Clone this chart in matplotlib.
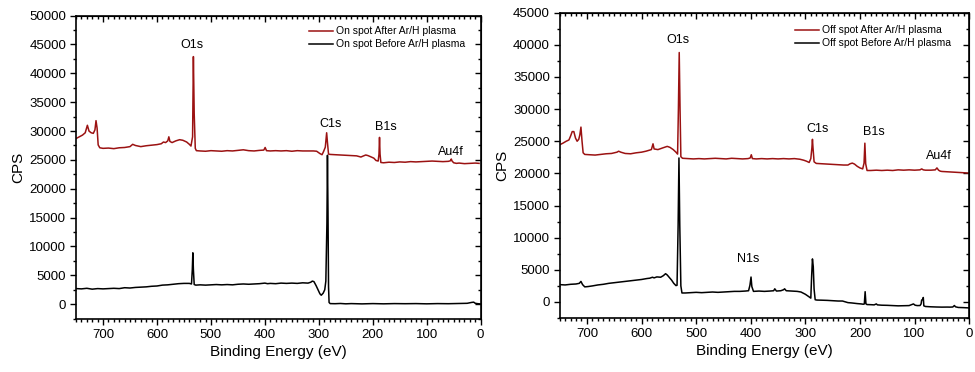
import matplotlib
matplotlib.use("Agg")
import matplotlib.pyplot as plt
from matplotlib.ticker import MultipleLocator

plt.rcParams["font.family"] = ["Liberation Sans", "DejaVu Sans"]

RED = "#9b1212"

# --- survey spectra: binding energy (eV) and counts per second -------------
on_after_be = [750, 744, 738, 733, 729, 726, 722, 718, 715, 713, 711, 709, 706, 700, 690,
               680, 670, 660, 650, 645, 640, 630, 620, 610, 600, 592, 588, 584, 580, 578,
               576, 572, 565, 558, 552, 545, 540, 537, 534, 532.5, 531, 529, 527, 520, 510,
               500, 490, 480, 470, 460, 450, 440, 430, 420, 410, 402, 399.5, 397, 390, 380,
               370, 360, 350, 340, 330, 320, 310, 304, 298, 294, 291, 288, 285.5, 284, 282,
               279, 270, 260, 250, 240, 230, 222, 217, 213, 209, 204, 198, 194, 190, 188.5,
               187.5, 186.5, 185, 180, 170, 160, 150, 140, 130, 120, 110, 100, 90, 80, 70,
               60, 56, 54.5, 53, 50, 45, 40, 30, 20, 10, 3]
on_after_cps = [28700, 29000, 29300, 29700, 31000, 30000, 29700, 29600, 30200, 31800, 30500,
                27600, 27100, 27000, 27050, 26950, 27100, 27150, 27300, 27700, 27500, 27300,
                27450, 27550, 27650, 27800, 28100, 28000, 28300, 29000, 28200, 28000, 28300,
                28500, 28400, 28100, 27700, 27400, 29000, 42900, 33000, 27000, 26600, 26550,
                26500, 26600, 26550, 26500, 26600, 26550, 26650, 26750, 26600, 26550, 26650,
                26700, 27150, 26600, 26550, 26600, 26550, 26600, 26500, 26600, 26550, 26550,
                26550, 26500, 26100, 25900, 26500, 27200, 29700, 28000, 26000, 25950, 25900,
                25850, 25800, 25750, 25700, 25500, 25700, 25850, 25750, 25550, 25300, 24900,
                24800, 26000, 28900, 26000, 24550, 24500, 24600, 24550, 24650, 24600, 24700,
                24650, 24700, 24750, 24800, 24750, 24700, 24750, 24850, 25150, 24800, 24500,
                24400, 24450, 24350, 24400, 24450, 24400]

on_before_be = [750, 740, 730, 720, 710, 700, 690, 680, 670, 660, 650, 640, 630, 620, 610,
                600, 590, 580, 570, 560, 550, 540, 536, 534.5, 533.5, 532.5, 531, 528, 520,
                510, 500, 490, 480, 470, 460, 450, 440, 430, 420, 410, 400, 395, 390, 380,
                370, 360, 350, 340, 330, 320, 315, 312, 309, 305, 301, 298, 295.5, 292, 289,
                287, 285, 284, 283, 282, 281, 279, 270, 260, 250, 240, 220, 200, 180, 160,
                140, 120, 100, 80, 60, 40, 25, 17, 13, 10, 5, 1]
on_before_cps = [2700, 2650, 2750, 2600, 2700, 2650, 2700, 2750, 2700, 2850, 2800, 2900, 2950,
                 3000, 3100, 3150, 3300, 3350, 3450, 3550, 3600, 3600, 3500, 6000, 8900, 6000,
                 3400, 3300, 3350, 3300, 3350, 3400, 3350, 3400, 3350, 3450, 3500, 3450, 3500,
                 3550, 3650, 3550, 3600, 3550, 3650, 3600, 3650, 3600, 3700, 3650, 3800, 4000,
                 3900, 3200, 2400, 1800, 1550, 1900, 2500, 4000, 14000, 25800, 16000, 3000, 300,
                 100, 80, 120, 60, 100, 50, 100, 60, 100, 80, 100, 60, 100, 80, 120, 150, 300,
                 350, 150, 80, 50]

off_after_be = [750, 744, 738, 733, 730, 727, 724, 721, 718, 715, 713, 711, 709, 707, 704,
                695, 685, 675, 665, 655, 645, 642, 638, 630, 620, 610, 600, 592, 586, 582,
                579, 577, 570, 560, 553, 548, 542, 537, 534, 532.5, 531, 529.5, 528, 525, 515,
                505, 495, 485, 475, 465, 455, 445, 435, 425, 415, 405, 401, 399, 397, 390,
                380, 370, 360, 350, 340, 330, 320, 310, 303, 298, 293, 290, 288, 287, 286,
                284, 280, 270, 260, 250, 240, 230, 222, 218, 214, 210, 205, 200, 195, 192.5,
                191, 189.5, 187, 180, 170, 160, 150, 140, 130, 120, 110, 100, 90, 87, 84, 80,
                70, 62, 59, 56, 53, 50, 40, 30, 20, 10, 1]
off_after_cps = [24450, 24700, 25000, 25200, 25800, 26500, 26500, 25500, 25000, 25300, 26000,
                 27200, 25000, 23200, 22950, 22900, 22850, 22950, 23050, 23100, 23300, 23450,
                 23300, 23100, 23050, 23200, 23300, 23450, 23600, 23700, 24600, 23800, 23700,
                 24000, 24200, 24050, 23700, 23300, 23000, 30000, 38800, 30000, 22600, 22350,
                 22300, 22250, 22300, 22250, 22300, 22350, 22300, 22250, 22350, 22300, 22250,
                 22300, 22400, 22900, 22300, 22250, 22300, 22250, 22300, 22250, 22300, 22250,
                 22300, 22200, 22050, 21900, 21700, 22300, 24000, 25300, 24000, 21800, 21550,
                 21500, 21450, 21400, 21350, 21300, 21300, 21500, 21600, 21450, 21100, 20850,
                 20700, 21600, 24700, 21500, 20450, 20450, 20500, 20450, 20500, 20450, 20550,
                 20500, 20550, 20500, 20550, 20700, 20550, 20500, 20500, 20550, 20850, 20500,
                 20350, 20300, 20250, 20200, 20150, 20100, 20050]

off_before_be = [750, 740, 730, 720, 714, 711, 708, 704, 698, 690, 680, 670, 660, 650, 640,
                 630, 620, 610, 600, 590, 585, 580, 577, 572, 565, 560, 556, 553, 549, 545,
                 541, 537, 535, 533, 531.5, 530, 528, 526, 520, 510, 500, 490, 480, 470, 460,
                 450, 440, 430, 420, 410, 404, 401.5, 399.5, 398, 395, 385, 375, 365, 358, 356,
                 353, 345, 340, 338, 335, 325, 315, 308, 300, 294, 290, 288.5, 287, 285.5, 284,
                 282, 279, 270, 260, 250, 240, 232, 228, 222, 215, 205, 198, 194, 192, 190.5,
                 189, 187, 180, 174, 170, 168, 160, 150, 140, 130, 120, 110, 105, 102, 99, 95,
                 90, 88, 87, 85, 84, 83, 80, 70, 60, 50, 40, 35, 30, 27, 25, 20, 10, 1]
off_before_cps = [2700, 2650, 2750, 2800, 2900, 3200, 2700, 2350, 2400, 2500, 2650, 2750,
                  2900, 3000, 3100, 3200, 3300, 3400, 3500, 3650, 3700, 3850, 3750, 3900, 3850,
                  4100, 4400, 4200, 3800, 3400, 2900, 2550, 2600, 12000, 22400, 12000, 2500,
                  1400, 1400, 1450, 1500, 1450, 1500, 1550, 1500, 1550, 1600, 1650, 1650, 1700,
                  1750, 2600, 3880, 2400, 1650, 1700, 1650, 1700, 1750, 2050, 1700, 1750, 1900,
                  2050, 1750, 1700, 1650, 1550, 1200, 850, 600, 4000, 6700, 5500, 2000, 350,
                  300, 280, 250, 200, 150, 150, 50, -100, -150, -250, -300, -350, -300, 1600,
                  -300, -400, -420, -450, -300, -450, -500, -520, -560, -600, -580, -560, -400,
                  -300, -500, -560, -550, -300, 300, 400, 700, -600, -700, -750, -780, -800,
                  -790, -800, -780, -550, -750, -850, -880, -920]

on_labels = [("O1s", 535, 44900), ("C1s", 278, 31200), ("B1s", 175, 30750), ("Au4f", 56, 26400)]
off_labels = [("O1s", 534, 40750), ("C1s", 277, 26930), ("B1s", 174, 26400),
              ("Au4f", 55, 22630), ("N1s", 405, 6730)]


def style_axes(ax, ymin, ymax):
    ax.set_xlim(750, 0)
    ax.set_ylim(ymin, ymax)
    ax.xaxis.set_major_locator(MultipleLocator(100))
    ax.xaxis.set_minor_locator(MultipleLocator(10))
    ax.yaxis.set_major_locator(MultipleLocator(5000))
    ax.yaxis.set_minor_locator(MultipleLocator(2500))
    for s in ax.spines.values():
        s.set_linewidth(1.2)
    ax.tick_params(which="both", direction="out", width=1.0, labelsize=9.5, pad=2.5)
    ax.tick_params(which="major", length=4.5)
    ax.tick_params(which="minor", length=2.5)
    # mirrored ticks on top / right point into the frame
    top = ax.secondary_xaxis("top")
    top.xaxis.set_major_locator(MultipleLocator(100))
    top.xaxis.set_minor_locator(MultipleLocator(10))
    right = ax.secondary_yaxis("right")
    right.yaxis.set_major_locator(MultipleLocator(5000))
    right.yaxis.set_minor_locator(MultipleLocator(2500))
    for sec in (top, right):
        sec.tick_params(which="both", direction="in", width=1.0, labeltop=False,
                        labelright=False)
        sec.tick_params(which="major", length=4)
        sec.tick_params(which="minor", length=2.2)
    ax.set_xlabel("Binding Energy (eV)", fontsize=11, labelpad=3)
    ax.set_ylabel("CPS", fontsize=11, labelpad=3)


fig = plt.figure(figsize=(9.75, 3.72), dpi=100)
ax1 = fig.add_axes([0.078, 0.142, 0.415, 0.816])
ax2 = fig.add_axes([0.574, 0.145, 0.420, 0.821])

ax1.plot(on_after_be, on_after_cps, color=RED, lw=1.1, label="On spot After Ar/H plasma")
ax1.plot(on_before_be, on_before_cps, color="black", lw=1.1, label="On spot Before Ar/H plasma")
style_axes(ax1, -2600, 50000)
for txt, x, y in on_labels:
    ax1.text(x, y, txt, ha="center", va="center", fontsize=9)

ax2.plot(off_after_be, off_after_cps, color=RED, lw=1.1, label="Off spot After Ar/H plasma")
ax2.plot(off_before_be, off_before_cps, color="black", lw=1.1, label="Off spot Before Ar/H plasma")
style_axes(ax2, -2500, 45000)
for txt, x, y in off_labels:
    ax2.text(x, y, txt, ha="center", va="center", fontsize=9)

for ax, top_y in ((ax1, 0.965), (ax2, 0.958)):
    ax.legend(loc="upper left", bbox_to_anchor=(0.575, top_y), frameon=False, fontsize=7.5,
              handlelength=2.3, handletextpad=0.3, labelspacing=0.28, borderpad=0,
              borderaxespad=0)

fig.savefig("out.png", dpi=100)
